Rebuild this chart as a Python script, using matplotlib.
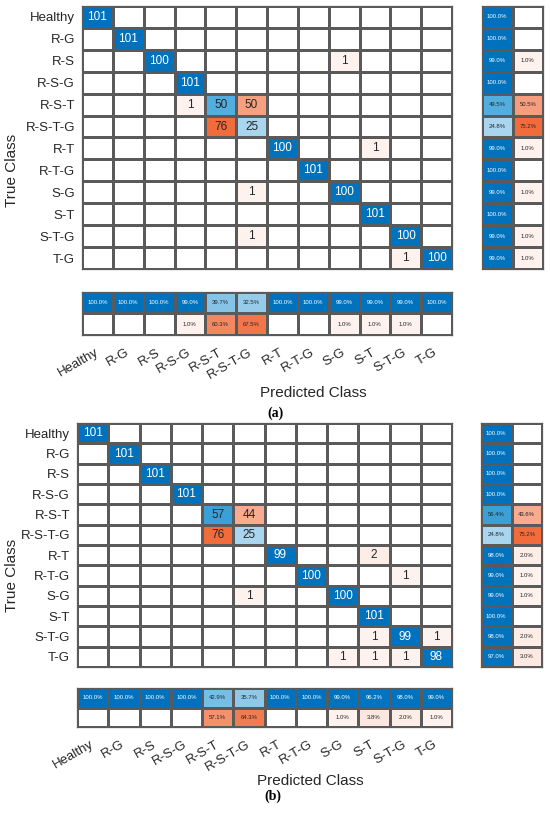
"""Two confusion charts (a) and (b) with row and column summaries."""

import matplotlib

matplotlib.use("Agg")

import matplotlib.pyplot as plt
import numpy as np
from matplotlib.colors import LinearSegmentedColormap

CLASSES = ["Healthy", "R-G", "R-S", "R-S-G", "R-S-T", "R-S-T-G",
           "R-T", "R-T-G", "S-G", "S-T", "S-T-G", "T-G"]

COUNTS_A = [
    [101, 0, 0, 0, 0, 0, 0, 0, 0, 0, 0, 0],
    [0, 101, 0, 0, 0, 0, 0, 0, 0, 0, 0, 0],
    [0, 0, 100, 0, 0, 0, 0, 0, 1, 0, 0, 0],
    [0, 0, 0, 101, 0, 0, 0, 0, 0, 0, 0, 0],
    [0, 0, 0, 1, 50, 50, 0, 0, 0, 0, 0, 0],
    [0, 0, 0, 0, 76, 25, 0, 0, 0, 0, 0, 0],
    [0, 0, 0, 0, 0, 0, 100, 0, 0, 1, 0, 0],
    [0, 0, 0, 0, 0, 0, 0, 101, 0, 0, 0, 0],
    [0, 0, 0, 0, 0, 1, 0, 0, 100, 0, 0, 0],
    [0, 0, 0, 0, 0, 0, 0, 0, 0, 101, 0, 0],
    [0, 0, 0, 0, 0, 1, 0, 0, 0, 0, 100, 0],
    [0, 0, 0, 0, 0, 0, 0, 0, 0, 0, 1, 100],
]

COUNTS_B = [
    [101, 0, 0, 0, 0, 0, 0, 0, 0, 0, 0, 0],
    [0, 101, 0, 0, 0, 0, 0, 0, 0, 0, 0, 0],
    [0, 0, 101, 0, 0, 0, 0, 0, 0, 0, 0, 0],
    [0, 0, 0, 101, 0, 0, 0, 0, 0, 0, 0, 0],
    [0, 0, 0, 0, 57, 44, 0, 0, 0, 0, 0, 0],
    [0, 0, 0, 0, 76, 25, 0, 0, 0, 0, 0, 0],
    [0, 0, 0, 0, 0, 0, 99, 0, 0, 2, 0, 0],
    [0, 0, 0, 0, 0, 0, 0, 100, 0, 0, 1, 0],
    [0, 0, 0, 0, 0, 1, 0, 0, 100, 0, 0, 0],
    [0, 0, 0, 0, 0, 0, 0, 0, 0, 101, 0, 0],
    [0, 0, 0, 0, 0, 0, 0, 0, 0, 1, 99, 1],
    [0, 0, 0, 0, 0, 0, 0, 0, 1, 1, 1, 98],
]

W, H = 550, 813
FONT = "Liberation Sans"
TEXT_COLOR = "#262626"
EDGE_COLOR = "#5a5a5a"

BLUE_MAP = LinearSegmentedColormap.from_list("diag", [
    (0.0, "#ffffff"), (0.25, "#a9d5ee"), (0.40, "#84c4e7"), (0.50, "#4fadde"),
    (0.57, "#3a9fd8"), (0.80, "#0f80c8"), (1.0, "#0072bd")])
ORANGE_MAP = LinearSegmentedColormap.from_list("offdiag", [
    (0.0, "#fef6f3"), (0.03, "#fce8e1"), (0.44, "#f8aa8e"), (0.57, "#f4916c"),
    (0.65, "#f27a50"), (0.76, "#f26a38"), (1.0, "#d95319")])

# pixel layout of each panel: main matrix box, row-summary x range, column-summary y range
PANELS = [
    dict(counts=COUNTS_A, main=(82, 6, 452, 269), row_x=(482, 543), col_y=(292, 335),
         xlabel_xy=(313, 393), ylabel_xy=(12, 170), tag="(a)", tag_xy=(275, 413)),
    dict(counts=COUNTS_B, main=(77, 423, 452, 667), row_x=(481, 542), col_y=(688, 727),
         xlabel_xy=(310, 781), ylabel_xy=(12, 575), tag="(b)", tag_xy=(273, 796)),
]


def box(left, top, right, bottom):
    return [left / W, 1 - bottom / H, (right - left) / W, (bottom - top) / H]


def cell_color(fraction, diagonal):
    if fraction <= 0:
        return (1.0, 1.0, 1.0)
    cmap = BLUE_MAP if diagonal else ORANGE_MAP
    return cmap(min(fraction, 1.0))[:3]


def text_color(fraction, diagonal):
    return "white" if diagonal and fraction > 0.7 else TEXT_COLOR


def draw_cells(ax, rgb, labels, fractions, diag_mask, fontsize):
    rows, cols = rgb.shape[:2]
    ax.pcolormesh(np.arange(cols + 1), np.arange(rows + 1), rgb,
                  edgecolors=EDGE_COLOR, linewidth=0.75)
    ax.set_xlim(0, cols)
    ax.set_ylim(rows, 0)
    for spine in ax.spines.values():
        spine.set_color(EDGE_COLOR)
        spine.set_linewidth(0.9)
    ax.tick_params(length=0)
    ax.set_xticks([])
    ax.set_yticks([])
    for r in range(rows):
        for c in range(cols):
            if labels[r][c]:
                ax.text(c + 0.5, r + 0.5, labels[r][c], ha="center", va="center",
                        fontsize=fontsize, family=FONT,
                        color=text_color(fractions[r, c], diag_mask[r, c]))


def draw_panel(fig, panel):
    counts = np.array(panel["counts"], dtype=float)
    n = len(CLASSES)
    peak = counts.max()
    eye = np.eye(n, dtype=bool)

    # main matrix
    left, top, right, bottom = panel["main"]
    ax = fig.add_axes(box(left, top, right, bottom))
    frac = counts / peak
    rgb = np.array([[cell_color(frac[r, c], eye[r, c]) for c in range(n)] for r in range(n)])
    labels = [[f"{int(v)}" if v > 0 else "" for v in row] for row in counts]
    draw_cells(ax, rgb, labels, frac, eye, 8.5)
    ax.set_yticks(np.arange(n) + 0.5)
    ax.set_yticklabels(CLASSES, fontsize=9.5, family=FONT, color=TEXT_COLOR)
    ax.tick_params(axis="y", pad=5)

    # row summary (per true class)
    row_tot = counts.sum(axis=1)
    correct = np.diag(counts) / row_tot
    row_frac = np.column_stack([correct, 1 - correct])
    row_diag = np.column_stack([np.ones(n, bool), np.zeros(n, bool)])
    row_rgb = np.array([[cell_color(row_frac[r, c], row_diag[r, c]) for c in range(2)] for r in range(n)])
    row_lab = [[f"{100 * v:.1f}%" if v > 1e-9 else "" for v in row] for row in row_frac]
    ax_r = fig.add_axes(box(panel["row_x"][0], top, panel["row_x"][1], bottom))
    draw_cells(ax_r, row_rgb, row_lab, row_frac, row_diag, 4.3)

    # column summary (per predicted class)
    col_tot = counts.sum(axis=0)
    precision = np.diag(counts) / col_tot
    col_frac = np.vstack([precision, 1 - precision])
    col_diag = np.vstack([np.ones(n, bool), np.zeros(n, bool)])
    col_rgb = np.array([[cell_color(col_frac[r, c], col_diag[r, c]) for c in range(n)] for r in range(2)])
    col_lab = [[f"{100 * v:.1f}%" if v > 1e-9 else "" for v in row] for row in col_frac]
    ax_c = fig.add_axes(box(left, panel["col_y"][0], right, panel["col_y"][1]))
    draw_cells(ax_c, col_rgb, col_lab, col_frac, col_diag, 4.3)
    ax_c.set_xticks(np.arange(n) + 0.5)
    ax_c.set_xticklabels(CLASSES, fontsize=9.5, family=FONT, color=TEXT_COLOR,
                         rotation=30, ha="right", va="center", rotation_mode="anchor")
    ax_c.tick_params(axis="x", pad=12)

    fig.text(panel["xlabel_xy"][0] / W, 1 - panel["xlabel_xy"][1] / H, "Predicted Class",
             ha="center", va="center", fontsize=11, family=FONT, color=TEXT_COLOR)
    fig.text(panel["ylabel_xy"][0] / W, 1 - panel["ylabel_xy"][1] / H, "True Class",
             ha="center", va="center", rotation=90, fontsize=11, family=FONT, color=TEXT_COLOR)
    fig.text(panel["tag_xy"][0] / W, 1 - panel["tag_xy"][1] / H, panel["tag"],
             ha="center", va="center", fontsize=10, family="Liberation Serif",
             fontweight="bold", color="black")


def main():
    fig = plt.figure(figsize=(W / 100, H / 100), dpi=100)
    for panel in PANELS:
        draw_panel(fig, panel)
    fig.savefig("out.png", dpi=100, facecolor="white")
    plt.close(fig)


if __name__ == "__main__":
    main()
